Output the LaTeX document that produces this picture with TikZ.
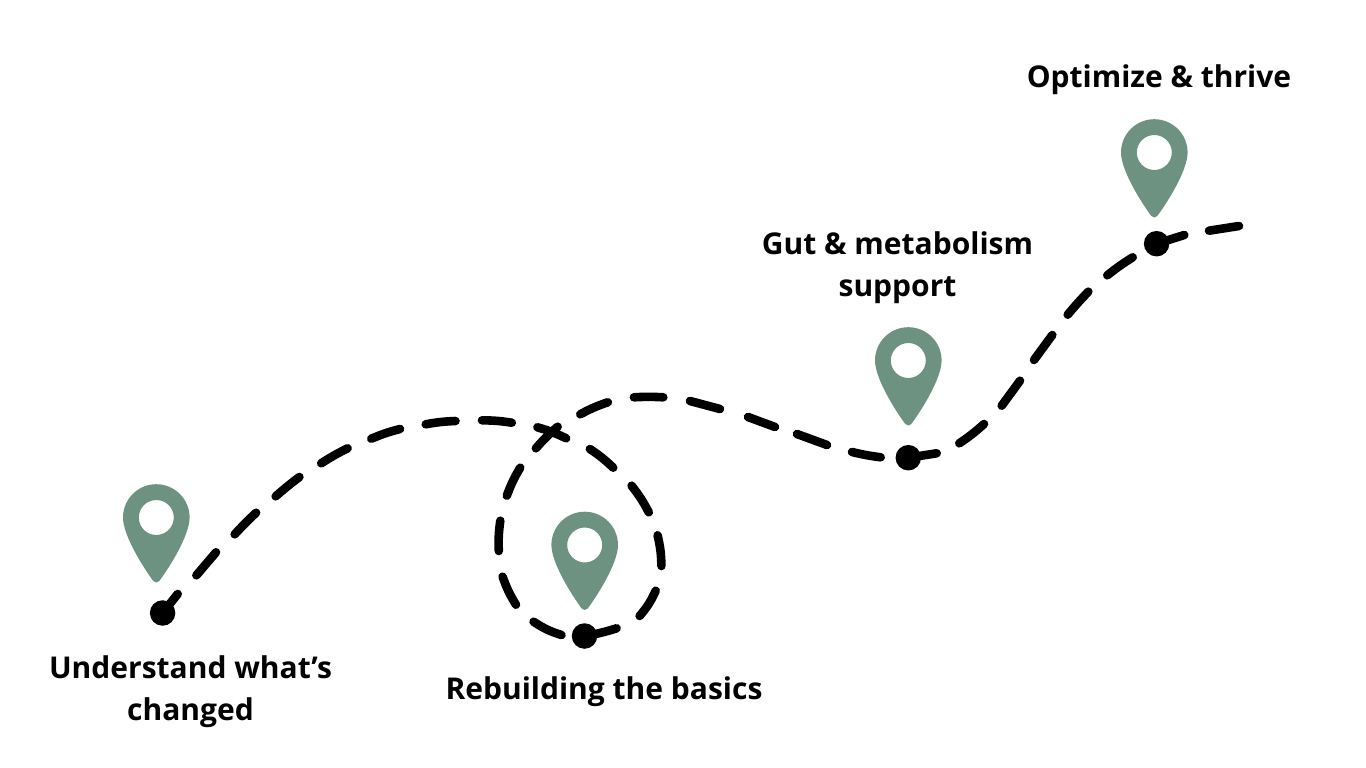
\documentclass[tikz,border=0pt]{standalone}
\usepackage{fontspec}
\setmainfont{Open Sans}
\definecolor{pinc}{HTML}{6D9282}
\tikzset{
  x=1pt,y=-1pt,
  route/.style={line width=8.6pt,line cap=round,black},
  dot/.style={circle,fill=black,inner sep=0pt,minimum size=25.5pt},
  lbl/.style={font=\fontsize{30}{42}\selectfont\bfseries,align=center,anchor=base,inner sep=0pt,text=black},
  pinmark/.pic={
    \fill[pinc,even odd rule] (-33.3,0) arc[start angle=180,end angle=360,radius=33.3]
      .. controls (33.3,18) and (13,50) .. (3,63.5)
      .. controls (1.5,65.5) and (-1.5,65.5) .. (-3,63.5)
      .. controls (-13,50) and (-33.3,18) .. (-33.3,0) -- cycle
      (17.5,0) arc[start angle=0,end angle=360,radius=17.5] -- cycle;
  }
}
\begin{document}
\begin{tikzpicture}
\useasboundingbox (0,0) rectangle (1366,768);
\fill[white] (0,0) rectangle (1366,768);
\node[dot] (d1) at (162.6,613) {};
\node[dot] (d2) at (584.5,636) {};
\node[dot] (d3) at (908.3,457.7) {};
\node[dot] (d4) at (1156.6,243.7) {};
\begin{scope}[route]
\draw (d1.center) -- (177.7,594);
\draw (196.4,575.3) -- (216,552.3);
\draw (234.7,534.3) to[bend left=2] (256.1,512.7);
\draw (275.7,496.3) to[bend left=2] (299.4,477);
\draw (321.2,463.3) to[bend left=3] (347.6,448.3);
\draw (371.3,438.7) to[bend left=4] (400,429);
\draw (425.7,424.3) to[bend left=4] (455.5,421);
\draw (482,420.3) to[bend left=4] (511.8,422.7);
\draw (537.4,427.3) to[bend left=5] (566.1,438.3);
\draw (589.9,449) to[bend left=5] (613.2,467.7);
\draw (631.6,485.7) to[bend left=5] (648.8,512.3);
\draw (657.6,535.3) to[bend left=6] (661.4,566);
\draw (655.7,590.7) to[bend left=8] (639.6,616);
\draw (616.6,628.3) to[bend left=4] (d2.center);
\draw (561.5,635) to[bend left=8] (533.6,621.7);
\draw (516,604.7) to[bend left=6] (502.6,576.7);
\draw (498.8,551) to[bend left=5] (500.3,520.7);
\draw (506.8,495.7) to[bend left=5] (520.2,467.7);
\draw (535.9,448.3) to[bend left=4] (557.7,426.7);
\draw (580.3,414.3) to[bend left=5] (607.8,402.3);
\draw (633.9,397.3) to[bend left=3] (663.3,397.3);
\draw (690,401) -- (720,409);
\draw (748,417) -- (775,427);
\draw (797,434) -- (827,445);
\draw (852,452) to[bend right=3] (880.7,457.3);
\draw (d3.center) -- (936.7,453.3);
\draw (959.3,443.3) to[bend right=4] (984,424);
\draw (1001.7,405.7) -- (1020,380.7);
\draw (1034,360) -- (1052.3,335);
\draw (1067.7,314.7) to[bend left=2] (1088.3,291.7);
\draw (1107.3,275.3) to[bend left=3] (1132.7,257.3);
\draw (d4.center) -- (1184.3,235);
\draw (1209,230.7) -- (1239,226);
\end{scope}
\pic at (156.3,517.5) {pinmark};
\pic at (584.7,545) {pinmark};
\pic at (908.3,360.5) {pinmark};
\pic at (1154.3,152.5) {pinmark};
\node[lbl] (t1a) at (190.5,678) {Understand what’s};
\node[lbl] (t1b) at (190.5,720) {changed};
\node[lbl] (t2) at (604,699) {Rebuilding the basics};
\node[lbl] (t3a) at (897.5,254) {Gut \& metabolism};
\node[lbl] (t3b) at (897.5,296) {support};
\node[lbl] (t4) at (1159,88) {Optimize \& thrive};
\end{tikzpicture}
\end{document}
